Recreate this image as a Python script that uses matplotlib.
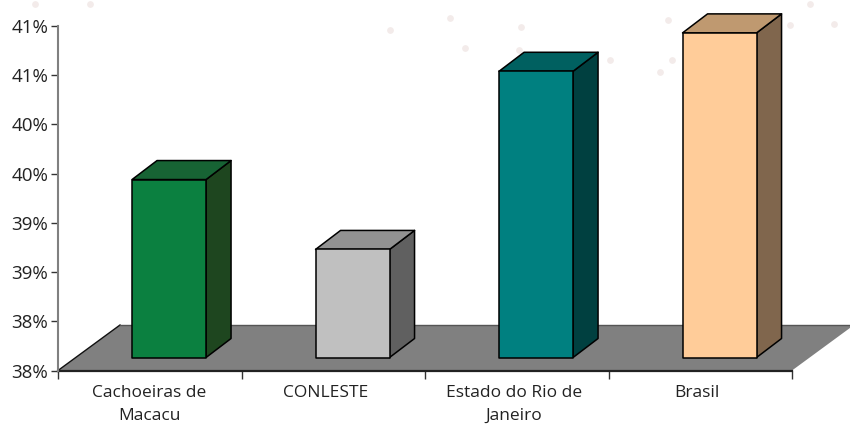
import matplotlib
matplotlib.use("Agg")
import matplotlib.pyplot as plt
from matplotlib.patches import Polygon

categories = ["Cachoeiras de\nMacacu", "CONLESTE", "Estado do Rio de\nJaneiro", "Brasil"]
values = [39.44, 38.73, 40.54, 40.93]
colors = ["#0B8040", "#C0C0C0", "#008080", "#FFCC99"]
top_colors = ["#176334", "#929292", "#006060", "#BF9970"]
side_colors = ["#1E461F", "#606060", "#004040", "#80664D"]
yticks = [37.5, 38.0, 38.5, 39.0, 39.5, 40.0, 40.5, 41.0]
ylabels = ["38%", "38%", "39%", "39%", "40%", "40%", "41%", "41%"]

# faint background speckle, pixel positions from the top of the picture
speck_x = [390, 450, 465, 519, 521, 660, 672, 668, 755, 790, 810, 834, 35, 90, 610, 700]
speck_y = [30, 18, 48, 50, 27, 72, 60, 20, 22, 25, 4, 24, 4, 4, 60, 30]

plt.rcParams["font.family"] = ["Open Sans", "DejaVu Sans"]

W, H = 850, 425
fig = plt.figure(figsize=(W / 100, H / 100), dpi=100)

bg = fig.add_axes([0, 0, 1, 1], zorder=0)
bg.set_xlim(0, W)
bg.set_ylim(H, 0)
bg.axis("off")
bg.scatter(speck_x, speck_y, s=24, color="#C9A8A0", alpha=0.22, linewidths=0)

ax = fig.add_axes([58 / W, 1 - 370.5 / H, 734 / W, 344.5 / H], zorder=1)
ax.set_xlim(0, 4)
ax.set_ylim(37.5, 41)

# px -> data units
px_x = 4 / 734
px_y = 3.5 / 344.5

# floor
fx, fy = 62 * px_x, 45.5 * px_y
floor = Polygon([(0, 37.5), (4, 37.5), (4 + fx, 37.5 + fy), (fx, 37.5 + fy)],
                facecolor="#808080", edgecolor="none", clip_on=False, zorder=1)
ax.add_patch(floor)
ax.plot([0, fx], [37.5, 37.5 + fy], color="#111111", lw=1, clip_on=False, zorder=2)
ax.plot([fx, 4 + fx], [37.5 + fy, 37.5 + fy], color="#555555", lw=1, clip_on=False, zorder=2)
ax.plot([0, 4], [37.5, 37.5], color="#222222", lw=1.6, clip_on=False, zorder=2)

# bars
bw = 74 * px_x
base = 37.5 + 13 * px_y
dx, dy = 25 * px_x, 19 * px_y
for i, v in enumerate(values):
    x0 = i + 0.5 + 19.3 * px_x - bw / 2
    x1 = x0 + bw
    front = [(x0, base), (x1, base), (x1, v), (x0, v)]
    side = [(x1, base), (x1 + dx, base + dy), (x1 + dx, v + dy), (x1, v)]
    top = [(x0, v), (x1, v), (x1 + dx, v + dy), (x0 + dx, v + dy)]
    for pts, col in [(side, side_colors[i]), (top, top_colors[i]), (front, colors[i])]:
        ax.add_patch(Polygon(pts, closed=True, facecolor=col, edgecolor="black",
                             lw=1.1, joinstyle="round", clip_on=False, zorder=3))

ax.set_yticks(yticks)
ax.set_yticklabels(ylabels)
ax.set_xticks(range(5))
ax.set_xticklabels([""] * 5)
label_shift = [-0.5, -8, -3, -3]
for i, name in enumerate(categories):
    ax.text(i + 0.5 + label_shift[i] * px_x, 37.5 - 14.5 * px_y, name, ha="center", va="top",
            fontsize=12.5, color="#222222", linespacing=1.6)

ax.tick_params(axis="y", length=5, width=1, color="#333333", labelcolor="#222222",
               labelsize=13.5, pad=2)
ax.tick_params(axis="x", length=6, width=1, color="#333333")
for s in ["top", "right", "bottom"]:
    ax.spines[s].set_visible(False)
ax.spines["left"].set_color("#808080")
ax.spines["left"].set_linewidth(1.5)
ax.patch.set_alpha(0)

fig.savefig("out.png", dpi=100)
